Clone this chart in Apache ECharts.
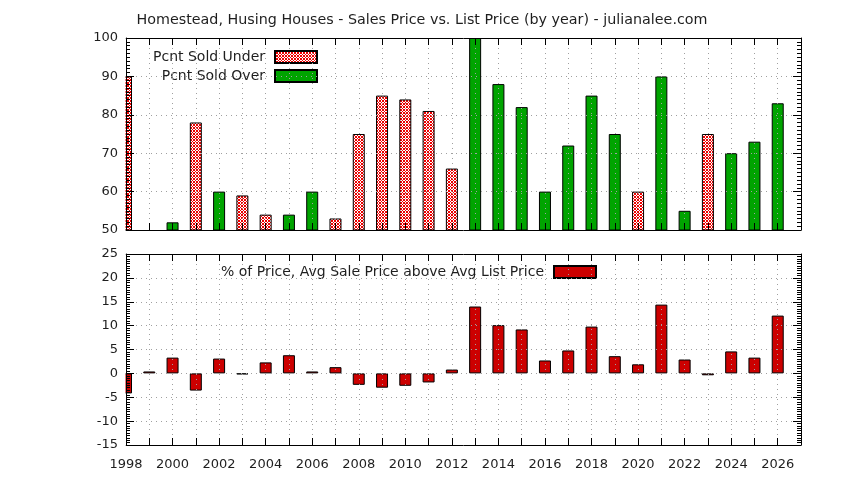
<!DOCTYPE html>
<html><head><meta charset="utf-8">
<script src="https://cdn.jsdelivr.net/npm/echarts@6/dist/echarts.min.js"></script>
<style>html,body{margin:0;padding:0;background:#fff}#c{width:844px;height:480px}</style>
</head><body><div id="c"></div>
<script>
const years = [1998,1999,2000,2001,2002,2003,2004,2005,2006,2007,2008,2009,2010,2011,2012,2013,2014,2015,2016,2017,2018,2019,2020,2021,2022,2023,2024,2025,2026];
const pcntSoldUnder = [90,null,null,78,null,59,54,null,null,53,75,85,84,81,66,null,null,null,null,null,null,null,60,null,null,75,null,null,null];
const pcntSoldOver = [null,null,52,null,60,null,null,54,60,null,null,null,null,null,null,100,88,82,60,72,85,75,null,90,55,null,70,73,83];
const pctAboveList = [-4.2,0.4,3.3,-3.6,3.1,-0.2,2.3,3.8,0.4,1.3,-2.4,-3.0,-2.6,-1.9,0.8,14.0,10.1,9.2,2.7,4.8,9.8,3.6,1.9,14.4,2.9,-0.4,4.6,3.3,12.1];
const topTicks = [50,60,70,80,90,100];
const bottomTicks = [-15,-10,-5,0,5,10,15,20,25];

const pair = arr => years.map((y,i)=>[y,arr[i]]).filter(d=>d[1]!==null);

// crosshatch pattern
const pc = document.createElement('canvas');
pc.width = 3; pc.height = 3;
const g = pc.getContext('2d');
g.fillStyle = '#ffffff'; g.fillRect(0,0,3,3);
g.fillStyle = '#ee0000';
for (let x=0;x<3;x++) for (let y=0;y<3;y++) {
  if ((x+y)%3===0 || (x-y+3)%3===0) g.fillRect(x,y,1,1);
}
const hatch = {image: pc, repeat: 'repeat'};

const FONT = 'DejaVu Sans';
const TXT = '#1e1e1e';
const grid = {type:[1,4], color:'#a0a0a0', width:1};
const axLine = {show:true, onZero:false, lineStyle:{color:'#000', width:1}};

function xAx(gi, pos, main, labels){
  return {
    type:'value', gridIndex:gi, position:pos, min:1998, max:2027, interval:1,
    axisLine:axLine, z:5,
    axisTick:{show:true, inside:true, length:7, lineStyle:{color:'#000'}},
    axisLabel:{show:labels, fontFamily:FONT, fontSize:13, color:TXT, margin:13,
      formatter: v => (v%2===0 && v<=2026) ? String(v) : ''},
    splitLine:{show:main, lineStyle:grid}
  };
}
function yAx(gi, pos, main, min, max, interval){
  return {
    type:'value', gridIndex:gi, position:pos, min:min, max:max, interval:interval,
    axisLine:axLine, z:5,
    axisTick:{show:true, inside:true, length:8, lineStyle:{color:'#000'}},
    minorTick:{show:true, splitNumber:10, length:4, lineStyle:{color:'#000'}},
    axisLabel:{show:main, fontFamily:FONT, fontSize:13, color:TXT, margin:8},
    splitLine:{show:main, lineStyle:grid}
  };
}

const chart = echarts.init(document.getElementById('c'), null, {renderer:'canvas'});
chart.setOption({
  animation:false,
  backgroundColor:'#fff',
  title:{text:'Homestead, Husing Houses - Sales Price vs. List Price (by year) - julianalee.com',
    left:'center', top:8, textStyle:{fontFamily:FONT, fontSize:14.3, fontWeight:'normal', color:TXT}},
  grid:[
    {left:126, right:43, top:38, height:192, outerBoundsMode:'none'},
    {left:126, right:43, top:254, height:191, outerBoundsMode:'none'}
  ],
  xAxis:[xAx(0,'bottom',true,false), xAx(0,'top',false,false), xAx(1,'bottom',true,true), xAx(1,'top',false,false)],
  yAxis:[yAx(0,'left',true,topTicks[0],topTicks[topTicks.length-1],10), yAx(0,'right',false,50,100,10),
         yAx(1,'left',true,bottomTicks[0],bottomTicks[bottomTicks.length-1],5), yAx(1,'right',false,-15,25,5)],
  legend:[
    {data:['Pcnt Sold Under','Pcnt Sold Over'], orient:'vertical', align:'right', right:520, top:41,
     itemWidth:42, itemHeight:12, itemGap:5, icon:'rect', selectedMode:false,
     backgroundColor:'#fff', padding:[9,6,6,10],
     textStyle:{fontFamily:FONT, fontSize:14, color:TXT, padding:[0,5,0,0]}},
    {data:['% of Price, Avg Sale Price above Avg List Price'], orient:'vertical', align:'right', right:242, top:258,
     itemWidth:42, itemHeight:12, icon:'rect', selectedMode:false,
     backgroundColor:'#fff', padding:[7,5,7,70],
     textStyle:{fontFamily:FONT, fontSize:14, color:TXT, padding:[0,5,0,0]}}
  ],
  // white mask hiding the part of edge bars that falls outside the plot frame
  graphic:[
    {type:'rect', z:100, silent:true, shape:{x:119, y:36, width:6.5, height:414}, style:{fill:'#fff'}}
  ],
  series:[
    {name:'Pcnt Sold Under', type:'bar', xAxisIndex:0, yAxisIndex:0, barWidth:12, barGap:'-100%', clip:true,
     itemStyle:{color:hatch, borderColor:'#000', borderWidth:1}, data:pair(pcntSoldUnder)},
    {name:'Pcnt Sold Over', type:'bar', xAxisIndex:0, yAxisIndex:0, barWidth:12, barGap:'-100%', clip:true,
     itemStyle:{color:'#00a400', borderColor:'#000', borderWidth:1}, data:pair(pcntSoldOver)},
    {name:'% of Price, Avg Sale Price above Avg List Price', type:'bar', xAxisIndex:2, yAxisIndex:2, barWidth:12, clip:true,
     itemStyle:{color:'#cc0000', borderColor:'#000', borderWidth:1}, data:pair(pctAboveList)}
  ]
});
</script></body></html>
